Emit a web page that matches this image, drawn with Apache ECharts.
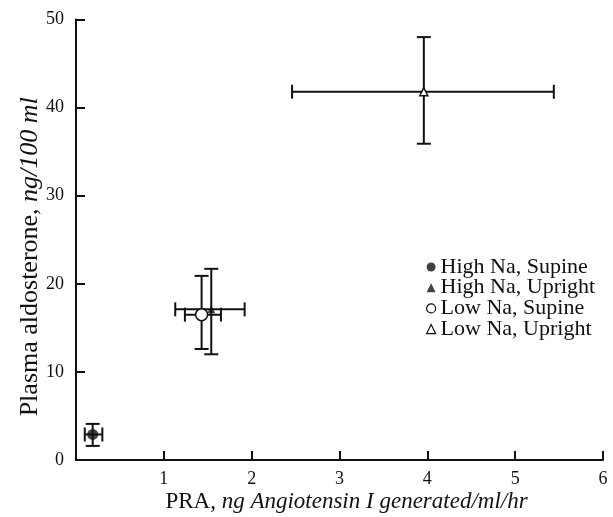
<!DOCTYPE html>
<html>
<head>
<meta charset="utf-8">
<script src="https://cdn.jsdelivr.net/npm/echarts@6/dist/echarts.min.js"></script>
<style>
  html, body { margin: 0; padding: 0; background: #fff; }
</style>
</head>
<body>
<div id="myChart" style="width: 613px; height: 517px;"></div>
<script>
  // data
  const groups = ['High Na, Supine', 'High Na, Upright', 'Low Na, Supine', 'Low Na, Upright'];
  const praMean = [0.19, 1.54, 1.43, 3.96];
  const praLow = [0.10, 1.13, 1.24, 2.46];
  const praHigh = [0.30, 1.92, 1.65, 5.44];
  const aldoMean = [2.9, 17.1, 16.5, 41.8];
  const aldoLow = [1.6, 12.0, 12.6, 35.9];
  const aldoHigh = [4.1, 21.7, 20.9, 48.0];
  const xTicks = [0, 1, 2, 3, 4, 5, 6];
  const yTicks = [0, 10, 20, 30, 40, 50];

  const serif = "'Liberation Serif', 'DejaVu Serif', serif";
  const symbols = ['circle', 'triangle', 'circle', 'triangle'];
  const sizes = [11, 8, 12, 8];
  const filled = [true, true, false, false];

  let myChart = echarts.init(document.getElementById('myChart'));

  // error bars: one custom series, one item per group
  const barData = groups.map((g, i) => [praMean[i], aldoMean[i], praLow[i], praHigh[i], aldoLow[i], aldoHigh[i]]);

  function renderBars(params, api) {
    const c = api.coord([api.value(0), api.value(1)]);
    const xl = api.coord([api.value(2), api.value(1)]);
    const xh = api.coord([api.value(3), api.value(1)]);
    const yl = api.coord([api.value(0), api.value(4)]);
    const yh = api.coord([api.value(0), api.value(5)]);
    const st = { stroke: '#111', lineWidth: 2 };
    const cap = 7;
    return {
      type: 'group',
      children: [
        { type: 'line', shape: { x1: xl[0], y1: c[1], x2: xh[0], y2: c[1] }, style: st },
        { type: 'line', shape: { x1: xl[0], y1: c[1] - cap, x2: xl[0], y2: c[1] + cap }, style: st },
        { type: 'line', shape: { x1: xh[0], y1: c[1] - cap, x2: xh[0], y2: c[1] + cap }, style: st },
        { type: 'line', shape: { x1: c[0], y1: yl[1], x2: c[0], y2: yh[1] }, style: st },
        { type: 'line', shape: { x1: c[0] - cap, y1: yl[1], x2: c[0] + cap, y2: yl[1] }, style: st },
        { type: 'line', shape: { x1: c[0] - cap, y1: yh[1], x2: c[0] + cap, y2: yh[1] }, style: st }
      ]
    };
  }

  const series = [{
    type: 'custom',
    name: 'bars',
    renderItem: renderBars,
    data: barData,
    z: 1,
    silent: true
  }];
  groups.forEach((g, i) => {
    series.push({
      name: g,
      type: 'scatter',
      symbol: symbols[i],
      symbolSize: sizes[i],
      z: 5,
      itemStyle: filled[i]
        ? { color: '#111' }
        : { color: '#fff', borderColor: '#111', borderWidth: 1.5, opacity: 1 },
      data: [[praMean[i], aldoMean[i]]]
    });
  });

  myChart.setOption({
    animation: false,
    grid: { left: 76, right: 10, top: 19.5, bottom: 57, outerBoundsMode: 'none' },
    legend: {
      orient: 'vertical',
      left: 421,
      top: 251,
      itemWidth: 9,
      itemHeight: 9,
      itemGap: -1.3,
      textStyle: { fontFamily: serif, fontSize: 22, lineHeight: 19, color: '#111' },
      data: groups.map((g, i) => ({
        name: g,
        icon: symbols[i],
        itemStyle: filled[i]
          ? { color: '#111' }
          : { color: '#fff', borderColor: '#111', borderWidth: 1.2 }
      }))
    },
    xAxis: {
      type: 'value',
      min: xTicks[0],
      max: xTicks[xTicks.length - 1],
      interval: 1,
      splitLine: { show: false },
      axisLine: { lineStyle: { color: '#111', width: 2 } },
      axisTick: { inside: true, length: 9, lineStyle: { color: '#111', width: 2 } },
      axisLabel: {
        showMinLabel: false,
        margin: 10,
        fontFamily: serif, fontSize: 18, color: '#111'
      },
      name: '{n|PRA, }{i|ng Angiotensin I generated/ml/hr}',
      nameLocation: 'middle',
      nameGap: 30,
      nameMoveOverlap: false,
      nameTextStyle: {
        padding: [0, 0, 0, 14],
        rich: {
          n: { fontFamily: serif, fontSize: 23, color: '#111' },
          i: { fontFamily: serif, fontSize: 23, fontStyle: 'italic', color: '#111' }
        }
      }
    },
    yAxis: {
      type: 'value',
      min: yTicks[0],
      max: yTicks[yTicks.length - 1],
      interval: 10,
      splitLine: { show: false },
      axisLine: { lineStyle: { color: '#111', width: 2 } },
      axisTick: { inside: true, length: 9, lineStyle: { color: '#111', width: 2 } },
      axisLabel: { margin: 12, fontFamily: serif, fontSize: 18, color: '#111' },
      name: '{n|Plasma aldosterone, }{i|ng/100 ml}',
      nameLocation: 'middle',
      nameGap: 33,
      nameMoveOverlap: false,
      nameTextStyle: {
        padding: [0, 34, 0, 0],
        rich: {
          n: { fontFamily: serif, fontSize: 26, color: '#111' },
          i: { fontFamily: serif, fontSize: 26, fontStyle: 'italic', color: '#111' }
        }
      }
    },
    series: series
  });
</script>
</body>
</html>
